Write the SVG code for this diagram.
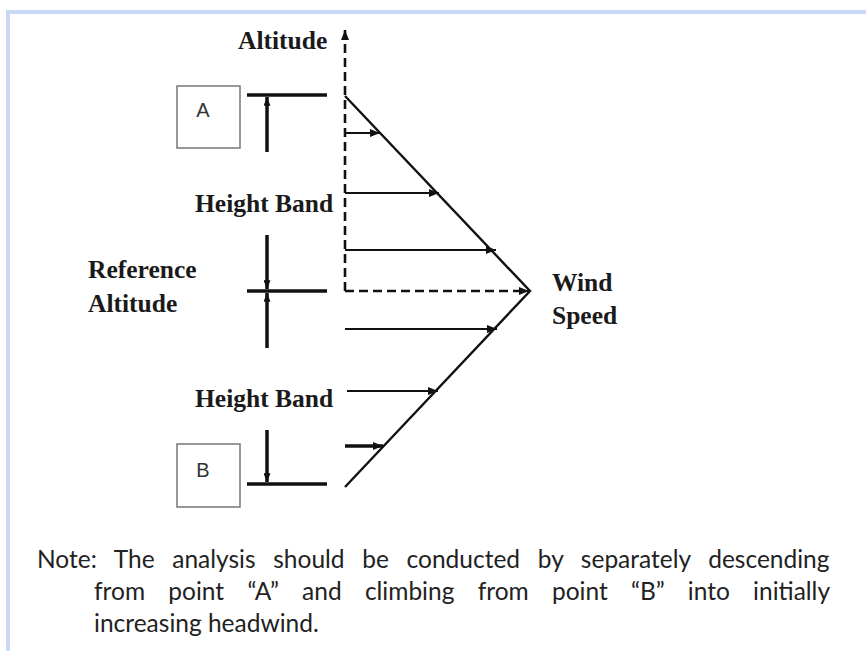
<svg xmlns="http://www.w3.org/2000/svg" width="866" height="651" viewBox="0 0 866 651">
<defs>
<marker id="ah" viewBox="0 0 10 8" refX="10" refY="4" markerWidth="12" markerHeight="8" markerUnits="userSpaceOnUse" orient="auto"><path d="M0,0 L10,4 L0,8 z" fill="#111"/></marker>
<marker id="ahs" viewBox="0 0 10 8" refX="10" refY="4" markerWidth="10" markerHeight="7" markerUnits="userSpaceOnUse" orient="auto"><path d="M0,0 L10,4 L0,8 z" fill="#111"/></marker>
</defs>
<style>
.lbl{font-family:"Liberation Serif","Times New Roman",serif;font-weight:bold;font-size:25.5px;fill:#1a1a1a}
.box{fill:#fff;stroke:#777;stroke-width:1.5}
.bt{font-family:"Liberation Sans",Arial,sans-serif;font-size:20px;fill:#333;text-anchor:middle}
.thick{stroke:#111;stroke-width:3.5;fill:none}
.arr{stroke:#111;stroke-width:2.2;fill:none}
.dash{stroke:#111;stroke-width:2.6;stroke-dasharray:9,5;fill:none}
.diag{stroke:#111;stroke-width:2.4;fill:none}
.note{font-family:Lato,"Liberation Sans",Arial,sans-serif;font-size:24.5px;fill:#222}
</style>
<rect width="866" height="651" fill="#fff"/>
<g id="frame">
<rect x="6" y="10" width="860" height="4" fill="#c9d9f5"/>
<rect x="6" y="10" width="4" height="641" fill="#c9d9f5"/>
</g>
<g id="node-A">
<rect class="box" x="177" y="86" width="63" height="62"/>
<text class="bt" x="203" y="117">A</text>
</g>
<g id="node-B">
<rect class="box" x="177" y="444" width="63" height="63"/>
<text class="bt" x="203" y="477">B</text>
</g>
<g id="labels">
<text class="lbl" x="238" y="49">Altitude</text>
<text class="lbl" x="195" y="212">Height Band</text>
<text class="lbl" x="88" y="278">Reference</text>
<text class="lbl" x="88" y="312">Altitude</text>
<text class="lbl" x="552" y="291">Wind</text>
<text class="lbl" x="552" y="324">Speed</text>
<text class="lbl" x="195" y="407">Height Band</text>
</g>
<g id="connectors">
<line class="thick" x1="247" y1="95" x2="327" y2="95"/>
<line class="thick" x1="267" y1="152" x2="267" y2="97" marker-end="url(#ahs)"/>
<line class="thick" x1="247" y1="291" x2="327" y2="291"/>
<line class="thick" x1="267" y1="235" x2="267" y2="289" marker-end="url(#ahs)"/>
<line class="thick" x1="267" y1="348" x2="267" y2="293" marker-end="url(#ahs)"/>
<line class="thick" x1="247" y1="484" x2="327" y2="484"/>
<line class="thick" x1="267" y1="430" x2="267" y2="482" marker-end="url(#ahs)"/>
<line class="dash" x1="345" y1="291" x2="345" y2="30" marker-end="url(#ah)"/>
<line class="dash" x1="345" y1="291" x2="529" y2="291" marker-end="url(#ah)"/>
<polyline class="diag" points="345,96 530,291 345,487"/>
<line class="arr" x1="345" y1="133" x2="380" y2="133" marker-end="url(#ah)"/>
<line class="arr" x1="345" y1="193" x2="439" y2="193" marker-end="url(#ah)"/>
<line class="arr" x1="345" y1="250" x2="496" y2="250" marker-end="url(#ah)"/>
<line class="arr" x1="345" y1="329" x2="497" y2="329" marker-end="url(#ah)"/>
<line class="arr" x1="347" y1="391" x2="438" y2="391" marker-end="url(#ah)"/>
<line class="thick" x1="345" y1="446" x2="383" y2="446" marker-end="url(#ah)"/>
</g>
<g id="note">
<text class="note" x="37" y="568" word-spacing="11.4">Note: The analysis should be conducted by separately descending</text>
<text class="note" x="94" y="600" word-spacing="17">from point “A” and climbing from point “B” into initially</text>
<text class="note" x="94" y="632">increasing headwind.</text>
</g>
</svg>
